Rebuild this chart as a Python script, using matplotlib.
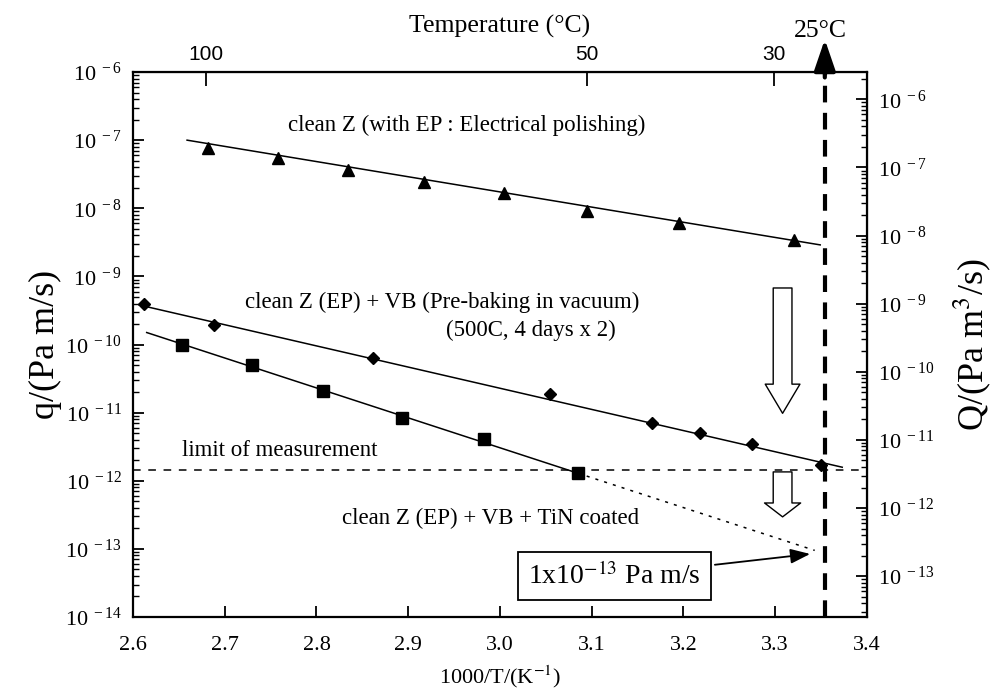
"""
Outgassing rate vs 1000/T for clean Z chamber material (EP / VB / TiN)
"""
import numpy as np
import matplotlib
matplotlib.use("Agg")
import matplotlib.pyplot as plt
from matplotlib import rcParams
from matplotlib.ticker import FixedLocator, LogLocator, NullFormatter

rcParams["font.family"] = ["Liberation Serif", "DejaVu Serif"]
rcParams["mathtext.fontset"] = "stix"
rcParams["font.size"] = 16.5

# ── data ────────────────────────────────────────────────────────────────────
# clean Z (with EP)
ep_x = [2.682, 2.758, 2.834, 2.917, 3.004, 3.095, 3.195, 3.320]
ep_q = [7.7e-8, 5.5e-8, 3.6e-8, 2.4e-8, 1.67e-8, 9.1e-9, 6.0e-9, 3.4e-9]
ep_fit_x = [2.659, 3.349]
ep_fit_q = [1.0e-7, 2.9e-9]

# clean Z (EP) + VB
vb_x = [2.612, 2.688, 2.862, 3.054, 3.166, 3.218, 3.275, 3.350]
vb_q = [3.9e-10, 1.93e-10, 6.3e-11, 1.86e-11, 7.1e-12, 5.1e-12, 3.5e-12, 1.7e-12]
vb_fit_x = [2.607, 3.373]
vb_fit_q = [3.8e-10, 1.58e-12]

# clean Z (EP) + VB + TiN
tin_x = [2.653, 2.730, 2.807, 2.893, 2.983, 3.085]
tin_q = [9.8e-11, 5.0e-11, 2.1e-11, 8.3e-12, 4.1e-12, 1.29e-12]
tin_fit_x = [2.615, 3.085]
tin_fit_q = [1.5e-10, 1.29e-12]
tin_ext_x = [3.085, 3.343]
tin_ext_q = [1.29e-12, 9.5e-14]

limit_q = 1.45e-12
x_25c = 1000.0 / 298.15
area = 10 ** 0.4          # Q = q * A  (m^2)
temp_ticks = [100, 50, 30]


def pow_label(k):
    return r"$\mathregular{10^{\ %d}}$" % k


fig = plt.figure(figsize=(9.92, 6.96), dpi=100)
ax = fig.add_axes([0.134, 0.1135, 0.740, 0.783])

ax.set_yscale("log")
ax.set_xlim(2.6, 3.4)
ax.set_ylim(1e-14, 1e-6)

# fit lines + points
ax.plot(ep_fit_x, ep_fit_q, color="black", lw=1.1)
ax.plot(ep_x, ep_q, "^", color="black", ms=9)
ax.plot(vb_fit_x, vb_fit_q, color="black", lw=1.1)
ax.plot(vb_x, vb_q, "D", color="black", ms=6.5)
ax.plot(tin_fit_x, tin_fit_q, color="black", lw=1.1)
ax.plot(tin_x, tin_q, "s", color="black", ms=9)
ax.plot(tin_ext_x, tin_ext_q, color="black", lw=1.1, ls=(0, (2, 4)))

# limit of measurement
ax.axhline(limit_q, color="black", lw=1.1, ls=(0, (5, 5)))

# 25 C line
ax.axvline(x_25c, color="black", lw=3, ls=(0, (4, 2.5)))
ax.annotate("", xy=(x_25c, 1.06), xycoords=("data", "axes fraction"),
            xytext=(x_25c, 0.99), textcoords=("data", "axes fraction"),
            arrowprops=dict(arrowstyle="-|>,head_length=1.9,head_width=0.65",
                            mutation_scale=10, fc="black", ec="black", lw=3,
                            shrinkA=0, shrinkB=0))
ax.text(x_25c - 0.005, 1.076, "25°C", transform=ax.get_xaxis_transform(),
        ha="center", va="center", fontsize=18.5)

# hollow arrows
hollow = dict(mutation_scale=10, fc="white", ec="black", lw=1, shrinkA=0, shrinkB=0)
ax.annotate("", xy=(3.308, 10 ** -11.01), xytext=(3.308, 10 ** -9.17),
            arrowprops=dict(arrowstyle="simple,head_length=2.1,head_width=2.5,tail_width=1.35",
                            **hollow))
ax.annotate("", xy=(3.308, 10 ** -12.53), xytext=(3.308, 10 ** -11.87),
            arrowprops=dict(arrowstyle="simple,head_length=1.0,head_width=2.6,tail_width=1.35",
                            **hollow))

# texts
ax.text(2.964, 10 ** -6.78, "clean Z (with EP : Electrical polishing)", ha="center", va="center")
ax.text(2.937, 10 ** -9.38, "clean Z (EP) + VB (Pre-baking in vacuum)", ha="center", va="center")
ax.text(3.034, 10 ** -9.79, "(500C, 4 days x 2)", ha="center", va="center")
ax.text(2.760, 10 ** -11.55, "limit of measurement", ha="center", va="center")
ax.text(2.990, 10 ** -12.55, "clean Z (EP) + VB + TiN coated", ha="center", va="center")

ax.annotate(r"1x10$^{-13}$ Pa m/s", xy=(3.341, 10 ** -13.07), xytext=(3.125, 10 ** -13.40),
            ha="center", va="center", fontsize=20,
            bbox=dict(boxstyle="square,pad=0.38", fc="white", ec="black", lw=1.3),
            arrowprops=dict(arrowstyle="-|>,head_length=0.8,head_width=0.3",
                            mutation_scale=15, fc="black", ec="black", lw=1.3))

# axes: ticks
ax.xaxis.set_major_locator(FixedLocator(np.arange(2.6, 3.41, 0.1)))
ax.set_xticklabels([f"{v:.1f}" for v in np.arange(2.6, 3.41, 0.1)], fontsize=16)
ax.yaxis.set_major_locator(FixedLocator([10.0 ** k for k in range(-14, -5)]))
ax.set_yticklabels([pow_label(k) for k in range(-14, -5)], fontsize=16)
ax.yaxis.set_minor_locator(LogLocator(base=10, subs=np.arange(2, 10), numticks=20))
ax.yaxis.set_minor_formatter(NullFormatter())
ax.tick_params(axis="both", which="major", direction="in", length=8, width=1.3,
               top=False, right=False, pad=8)
ax.tick_params(axis="x", which="major", pad=14)
ax.tick_params(axis="y", which="minor", direction="in", length=4, width=1)
for s in ax.spines.values():
    s.set_linewidth(1.6)

ax.set_xlabel(r"1000/T/(K$^{-1}$)", fontsize=16, labelpad=6)
ax.set_ylabel("q/(Pa m/s)", fontsize=26, labelpad=2)

# right axis Q = q*A
secy = ax.secondary_yaxis("right", functions=(lambda q: q * area, lambda Q: Q / area))
secy.yaxis.set_major_locator(FixedLocator([10.0 ** k for k in range(-13, -5)]))
secy.yaxis.set_major_formatter(plt.FixedFormatter([pow_label(k) for k in range(-13, -5)]))
secy.yaxis.set_minor_locator(LogLocator(base=10, subs=np.arange(2, 10), numticks=20))
secy.yaxis.set_minor_formatter(NullFormatter())
secy.tick_params(axis="y", which="major", direction="in", length=8, width=1.3, labelsize=16, pad=8)
secy.tick_params(axis="y", which="minor", direction="in", length=4, width=1)
secy.set_ylabel(r"Q/(Pa m$^3$/s)", fontsize=26, labelpad=12)

# top axis: temperature in C
secx = ax.secondary_xaxis("top", functions=(lambda x: 1000.0 / x - 273.15,
                                            lambda c: 1000.0 / (c + 273.15)))
secx.xaxis.set_major_locator(FixedLocator(temp_ticks))
secx.xaxis.set_major_formatter(plt.FixedFormatter([str(t) for t in temp_ticks]))
secx.xaxis.set_minor_locator(FixedLocator([]))
secx.tick_params(axis="x", direction="in", length=10, width=1.3, pad=6)
for lbl in secx.get_xticklabels():
    lbl.set_fontfamily(["Liberation Sans", "DejaVu Sans"])
    lbl.set_fontsize(15)
secx.set_xlabel("Temperature (°C)", fontsize=18.5, labelpad=9)

fig.savefig("out.png", dpi=100)
